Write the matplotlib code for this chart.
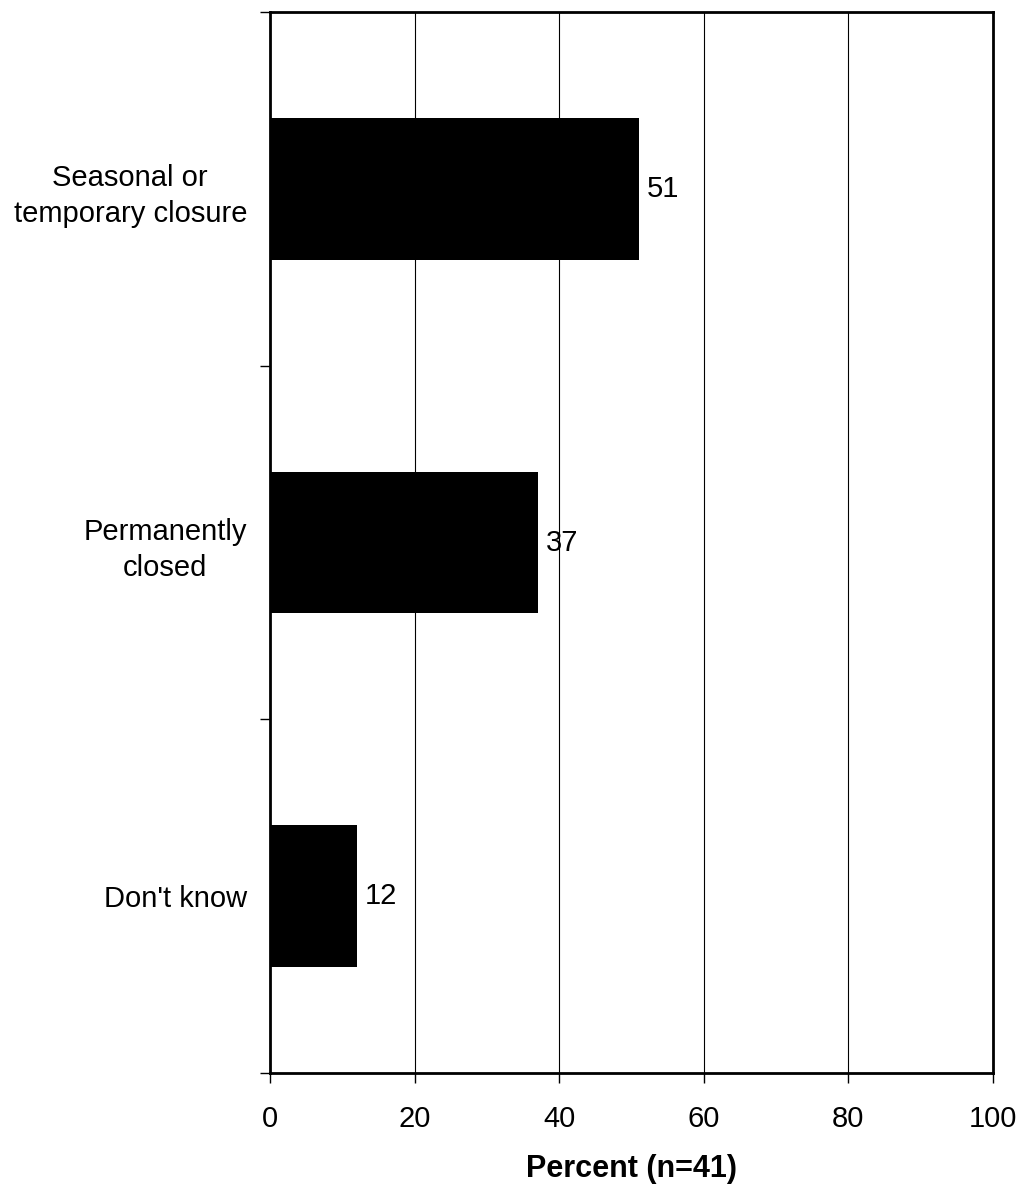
import matplotlib
matplotlib.use("Agg")
import matplotlib.pyplot as plt
import numpy as np

plt.rcParams['font.family'] = ['Liberation Sans', 'DejaVu Sans']

categories = ["Seasonal or\ntemporary closure", "Permanently\nclosed", "Don't know"]
percent = [51, 37, 12]
x_ticks = [0, 20, 40, 60, 80, 100]

fig = plt.figure(figsize=(10.23, 11.84), dpi=100)
ax = fig.add_axes([0.2639, 0.09375, 0.9707 - 0.2639, 0.98986 - 0.09375])

pos = np.arange(len(categories)) + 0.5
ax.barh(pos, percent, height=0.4, color='black', zorder=3)

for p, v in zip(pos, percent):
    ax.text(v + 1.1, p, f"{v}", va='center', ha='left', fontsize=21, zorder=4)

ax.set_xlim(0, 100)
ax.set_ylim(len(categories), 0)

ax.set_xticks(x_ticks)
ax.set_xticklabels([str(t) for t in x_ticks], fontsize=21)
ax.tick_params(axis='x', direction='out', length=7, width=1, pad=16)

# boundaries carry the tick marks, category names sit between them
ax.set_yticks(np.arange(len(categories) + 1))
ax.set_yticklabels([])
ax.tick_params(axis='y', which='major', direction='out', length=7, width=1)
ax.set_yticks(pos, minor=True)
ax.set_yticklabels(categories, minor=True, fontsize=21,
                   multialignment='center', linespacing=1.37)
ax.tick_params(axis='y', which='minor', length=0, pad=16.5)

ax.xaxis.grid(True, color='black', linewidth=0.8, zorder=0)
ax.set_axisbelow(True)

for s in ax.spines.values():
    s.set_linewidth(2)
    s.set_color('black')

ax.set_xlabel("Percent (n=41)", fontsize=22, fontweight='bold', labelpad=15)

fig.savefig("out.png", dpi=100)
